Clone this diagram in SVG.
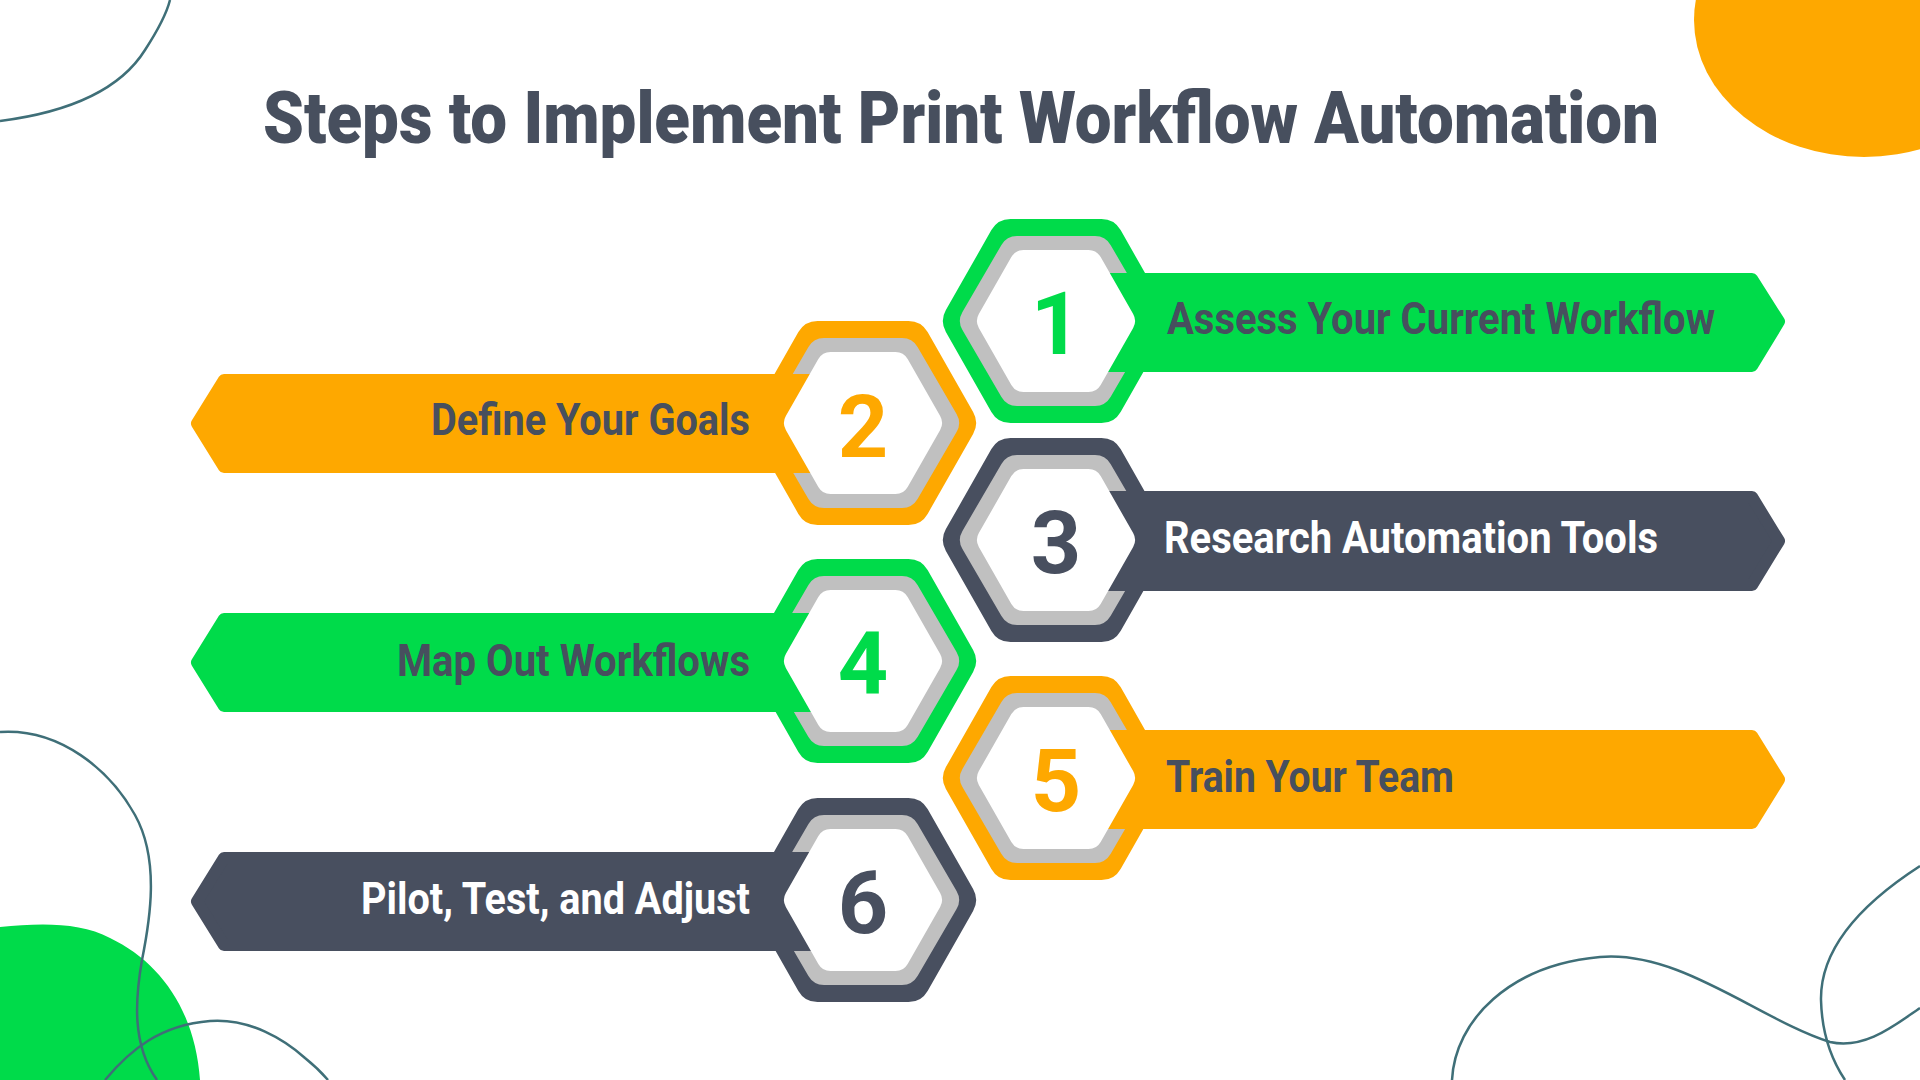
<svg xmlns="http://www.w3.org/2000/svg" width="1920" height="1080" viewBox="0 0 1920 1080">
<style>
.bg{fill:#ffffff}
.deco{fill:none;stroke:#3f6f78;stroke-width:2.5}
.g{fill:#00db4a;stroke:#00db4a}
.o{fill:#fea800;stroke:#fea800}
.d{fill:#484f5f;stroke:#484f5f}
.ring{fill:#c0c0c0;stroke:#c0c0c0;stroke-width:36;stroke-linejoin:round}
.outer{stroke-width:44;stroke-linejoin:round}
.bar{stroke-width:12;stroke-linejoin:round}
.core{fill:#ffffff;stroke:#ffffff;stroke-width:28;stroke-linejoin:round}
.num{font-family:Roboto,"Liberation Sans",sans-serif;font-weight:700;font-size:88px;text-anchor:middle}
.lbl{font-family:Roboto,"Liberation Sans",sans-serif;font-weight:700;font-size:44px}
.dk{fill:#474f5e}
.wt{fill:#ffffff}
.title{font-family:Roboto,"Liberation Sans",sans-serif;font-weight:900;font-size:73px;fill:#474f5e}
</style>
<defs>
<polygon id="hexOuter" points="-91,0 -45.5,-80 45.5,-80 91,0 45.5,80 -45.5,80"/>
<polygon id="hexRing" points="-78,0 -39,-67 39,-67 78,0 39,67 -39,67"/>
<polygon id="hexCore" points="-65,0 -32.5,-57 32.5,-57 65,0 32.5,57 -32.5,57"/>
</defs>
<rect class="bg" x="0" y="0" width="1920" height="1080"/>
<g id="decorations">
<ellipse cx="1864" cy="20" rx="170" ry="137" fill="#fea800"/>
<path d="M0,927 C40,923 80,922 110,938 C160,962 195,1010 200,1080 L0,1080 Z" fill="#00db4a"/>
<path class="deco" d="M0,121 C70,112 120,90 145,50 C158,30 167,12 170,0"/>
<path class="deco" d="M0,732 C60,728 110,770 135,815 C160,860 150,920 142,960 C135,1000 132,1045 157,1080"/>
<path class="deco" d="M105,1080 C130,1050 160,1025 210,1021 C250,1018 285,1040 305,1058 C315,1066 322,1073 328,1080"/>
<path class="deco" d="M1452,1080 C1455,1020 1510,965 1600,957 C1680,950 1760,1020 1830,1042 C1865,1050 1895,1025 1920,1008"/>
<path class="deco" d="M1920,866 C1875,895 1820,940 1821,1000 C1822,1040 1835,1065 1845,1080"/>
</g>
<text id="title" class="title" x="263" y="143" textLength="1396" lengthAdjust="spacingAndGlyphs">Steps to Implement Print Workflow Automation</text>
<g id="connectors"></g>
<g id="step1">
<use href="#hexOuter" class="g outer" transform="translate(1056,321)"/>
<use href="#hexRing" class="ring" transform="translate(1056,321)"/>
<polygon class="g bar" points="1056,279 1752,279 1779,321.5 1752,366 1056,366"/>
<use href="#hexCore" class="core" transform="translate(1056,321)"/>
<text class="num" x="1056" y="354" fill="#00db4a">1</text>
<text class="lbl dk" x="1167" y="334" textLength="548" lengthAdjust="spacingAndGlyphs">Assess Your Current Workflow</text>
</g>
<g id="step2">
<use href="#hexOuter" class="o outer" transform="translate(863,423)"/>
<use href="#hexRing" class="ring" transform="translate(863,423)"/>
<polygon class="o bar" points="863,380 224,380 197,423.5 224,467 863,467"/>
<use href="#hexCore" class="core" transform="translate(863,423)"/>
<text class="num" x="863" y="457" fill="#fea800">2</text>
<text class="lbl dk" x="431" y="435" textLength="319" lengthAdjust="spacingAndGlyphs">Define Your Goals</text>
</g>
<g id="step3">
<use href="#hexOuter" class="d outer" transform="translate(1056,540)"/>
<use href="#hexRing" class="ring" transform="translate(1056,540)"/>
<polygon class="d bar" points="1056,497 1752,497 1779,541 1752,585 1056,585"/>
<use href="#hexCore" class="core" transform="translate(1056,540)"/>
<text class="num" x="1056" y="573" fill="#484f5f">3</text>
<text class="lbl wt" x="1164" y="553" textLength="494" lengthAdjust="spacingAndGlyphs">Research Automation Tools</text>
</g>
<g id="step4">
<use href="#hexOuter" class="g outer" transform="translate(863,661)"/>
<use href="#hexRing" class="ring" transform="translate(863,661)"/>
<polygon class="g bar" points="863,619 224,619 197,662.5 224,706 863,706"/>
<use href="#hexCore" class="core" transform="translate(863,661)"/>
<text class="num" x="863" y="694" fill="#00db4a">4</text>
<text class="lbl dk" x="397" y="676" textLength="353" lengthAdjust="spacingAndGlyphs">Map Out Workflows</text>
</g>
<g id="step5">
<use href="#hexOuter" class="o outer" transform="translate(1056,778)"/>
<use href="#hexRing" class="ring" transform="translate(1056,778)"/>
<polygon class="o bar" points="1056,736 1752,736 1779,779.5 1752,823 1056,823"/>
<use href="#hexCore" class="core" transform="translate(1056,778)"/>
<text class="num" x="1056" y="811" fill="#fea800">5</text>
<text class="lbl dk" x="1166" y="792" textLength="288" lengthAdjust="spacingAndGlyphs">Train Your Team</text>
</g>
<g id="step6">
<use href="#hexOuter" class="d outer" transform="translate(863,900)"/>
<use href="#hexRing" class="ring" transform="translate(863,900)"/>
<polygon class="d bar" points="863,858 224,858 197,901.5 224,945 863,945"/>
<use href="#hexCore" class="core" transform="translate(863,900)"/>
<text class="num" x="863" y="933" fill="#484f5f">6</text>
<text class="lbl wt" x="361" y="914" textLength="389" lengthAdjust="spacingAndGlyphs">Pilot, Test, and Adjust</text>
</g>
</svg>
